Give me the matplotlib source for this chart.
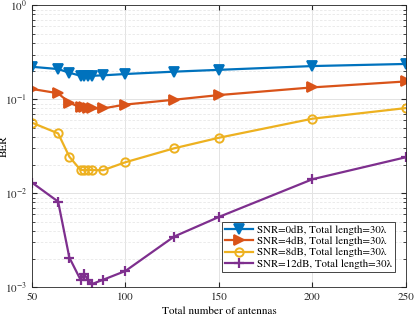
import matplotlib
matplotlib.use('Agg')
import matplotlib.pyplot as plt
from matplotlib.ticker import LogLocator, NullFormatter

# numero de antenas
antenas = [50, 64, 70, 76, 78, 80, 82, 88, 100, 126, 150, 200, 250]

ber_0db = [0.222, 0.210, 0.192, 0.178, 0.177, 0.177, 0.178, 0.180, 0.186, 0.197, 0.206, 0.226, 0.238]
ber_4db = [0.129, 0.116, 0.092, 0.082, 0.082, 0.081, 0.080, 0.080, 0.088, 0.099, 0.111, 0.134, 0.155]
ber_8db = [0.0564, 0.0434, 0.0245, 0.0177, 0.0177, 0.0177, 0.0177, 0.0176, 0.0214, 0.0301, 0.039, 0.0622, 0.0807]
ber_12db = [0.0130, 0.00815, 0.00207, 0.00120, 0.00138, 0.00119, 0.00108, 0.00120, 0.00149, 0.00346, 0.0056, 0.0141, 0.0242]

rotulos = ['SNR=0dB, Total length=30λ', 'SNR=4dB, Total length=30λ',
           'SNR=8dB, Total length=30λ', 'SNR=12dB, Total length=30λ']

plt.rcParams['font.family'] = ['STIXGeneral', 'DejaVu Serif']
plt.rcParams['mathtext.fontset'] = 'stix'

fig = plt.figure(figsize=(4.15, 3.16), dpi=100)
ax = fig.add_axes([0.077, 0.091, 0.901, 0.892])

ax.semilogy(antenas, ber_0db, color='#0072BD', lw=1.6, marker='v', ms=6.5, mew=1.3, label=rotulos[0])
ax.semilogy(antenas, ber_4db, color='#D95319', lw=1.6, marker='>', ms=6.5, mew=1.3, label=rotulos[1])
ax.semilogy(antenas, ber_8db, color='#EDB120', lw=1.6, marker='o', ms=6, mew=1.4, mfc='none', label=rotulos[2])
ax.semilogy(antenas, ber_12db, color='#7E2F8E', lw=1.6, marker='+', ms=7, mew=1.6, label=rotulos[3])

# formatar o grafico
ax.set_xlim(50, 250)
ax.set_ylim(1e-3, 1)
ax.set_xticks([50, 100, 150, 200, 250])
ax.yaxis.set_major_locator(LogLocator(base=10, numticks=10))
ax.yaxis.set_minor_locator(LogLocator(base=10, subs=range(2, 10), numticks=20))
ax.yaxis.set_minor_formatter(NullFormatter())
ax.grid(True, which='major', color='#e3e3e3', lw=0.7)
ax.grid(True, which='minor', color='#e8e8e8', lw=0.6, ls=(0, (3, 2)))
ax.set_axisbelow(True)
ax.tick_params(which='both', direction='in', top=True, right=True, labelsize=8, colors='#262626')
ax.tick_params(which='major', length=3.5)
ax.tick_params(which='minor', length=2)
for s in ax.spines.values():
    s.set_color('#262626')
    s.set_linewidth(0.6)

ax.set_xlabel('Total number of antennas', fontsize=8, labelpad=3)
ax.set_ylabel('BER', fontsize=8)
ax.yaxis.set_label_coords(-0.062, 0.5)

leg = ax.legend(loc='lower right', bbox_to_anchor=(0.985, 0.035), fontsize=7.8, handlelength=2.6,
                handletextpad=0.3, borderpad=0.3, labelspacing=0.15, fancybox=False, framealpha=1)
leg.get_frame().set_edgecolor('#262626')
leg.get_frame().set_linewidth(0.6)

fig.savefig('out.png', dpi=100)
